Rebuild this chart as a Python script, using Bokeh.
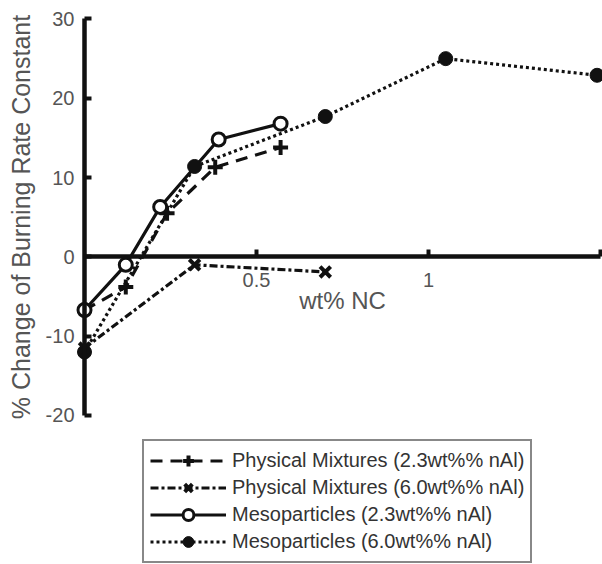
from bokeh.plotting import figure
from bokeh.models import Range1d, LinearAxis, FixedTicker, Legend, LegendItem
from bokeh.embed import file_html
from bokeh.resources import INLINE

# ---- data ----
phys23_x = [0.0, 0.12, 0.24, 0.38, 0.57]
phys23_y = [-6.7, -3.8, 5.5, 11.3, 13.8]

phys60_x = [0.0, 0.32, 0.70]
phys60_y = [-11.5, -1.0, -1.9]

meso23_x = [0.0, 0.12, 0.22, 0.39, 0.57]
meso23_y = [-6.7, -1.0, 6.3, 14.8, 16.8]

meso60_x = [0.0, 0.32, 0.70, 1.05, 1.49]
meso60_y = [-12.0, 11.4, 17.7, 25.0, 22.9]

x_ticks = [0.5, 1.0, 1.5]
x_tick_labels = {0.5: "0.5", 1.0: "1", 1.5: ""}
y_ticks = [-20, -10, 0, 10, 20, 30]
y_tick_labels = {-20: "-20", -10: "-10", 0: "0", 10: "10", 20: "20", 30: "30"}

labels = [
    "Physical Mixtures (2.3wt%% nAl)",
    "Physical Mixtures (6.0wt%% nAl)",
    "Mesoparticles (2.3wt%% nAl)",
    "Mesoparticles (6.0wt%% nAl)",
]

FONT = "Liberation Sans"
INK = "#111111"

p = figure(width=602, height=564, output_backend="svg", toolbar_location=None,
           x_axis_type=None, y_axis_type=None,
           x_range=Range1d(-0.2442, 1.5058), y_range=Range1d(-38.79, 32.33),
           min_border=0)
p.outline_line_color = None
p.background_fill_color = "white"

# axes crossing at the origin
xaxis = LinearAxis(fixed_location=0, bounds=(0, 1.5),
                   ticker=FixedTicker(ticks=x_ticks),
                   major_label_overrides=x_tick_labels,
                   axis_label="wt% NC")
yaxis = LinearAxis(fixed_location=0, bounds=(-20, 30),
                   ticker=FixedTicker(ticks=y_ticks),
                   major_label_overrides=y_tick_labels,
                   axis_label="% Change of Burning Rate Constant")
for ax in (xaxis, yaxis):
    ax.axis_line_width = 4.5
    ax.axis_line_color = INK
    ax.major_tick_line_width = 4
    ax.major_tick_line_color = INK
    ax.major_tick_in = 7
    ax.major_tick_out = 0
    ax.minor_tick_line_color = None
    ax.major_label_text_font = FONT
    ax.major_label_text_font_size = "20px"
    ax.major_label_text_color = "#555555"
    ax.axis_label_text_font = FONT
    ax.axis_label_text_font_style = "normal"
    ax.axis_label_text_color = "#555555"
xaxis.axis_label_text_font_size = "24px"
yaxis.axis_label_text_font_size = "25px"
xaxis.major_label_standoff = 16
xaxis.axis_label_standoff = -3
yaxis.major_label_standoff = 10
yaxis.axis_label_standoff = 8
p.add_layout(xaxis, "below")
p.add_layout(yaxis, "left")

LW = 3.2
l1 = p.line(phys23_x, phys23_y, line_color=INK, line_width=LW, line_dash="12 8")
l2 = p.line(phys60_x, phys60_y, line_color=INK, line_width=LW, line_dash="8 3 3 3")
l4 = p.line(meso60_x, meso60_y, line_color=INK, line_width=LW, line_dash="3 3")
l3 = p.line(meso23_x, meso23_y, line_color=INK, line_width=LW)

m4 = p.scatter(meso60_x, meso60_y, marker="circle", size=14, fill_color=INK, line_color=INK, line_width=1)
m1 = p.scatter(phys23_x, phys23_y, marker="cross", size=15, line_color=INK, line_width=4)
m2 = p.scatter(phys60_x, phys60_y, marker="x", size=15, line_color=INK, line_width=4)
m3 = p.scatter(meso23_x, meso23_y, marker="circle", size=13, fill_color="white", line_color=INK, line_width=3)

legend = Legend(items=[
    LegendItem(label=labels[0], renderers=[l1, m1]),
    LegendItem(label=labels[1], renderers=[l2, m2]),
    LegendItem(label=labels[2], renderers=[l3, m3]),
    LegendItem(label=labels[3], renderers=[l4, m4]),
], location=(142, 1))
legend.label_text_font = FONT
legend.label_text_font_size = "20px"
legend.label_text_color = "#333333"
legend.glyph_width = 76
legend.glyph_height = 27
legend.label_height = 20
legend.spacing = 0
legend.padding = 6
legend.margin = 0
legend.label_standoff = 6
legend.border_line_color = INK
legend.border_line_width = 2
legend.background_fill_color = "white"
legend.background_fill_alpha = 1
p.add_layout(legend, "center")

open("out.html", "w").write(file_html(p, INLINE))
